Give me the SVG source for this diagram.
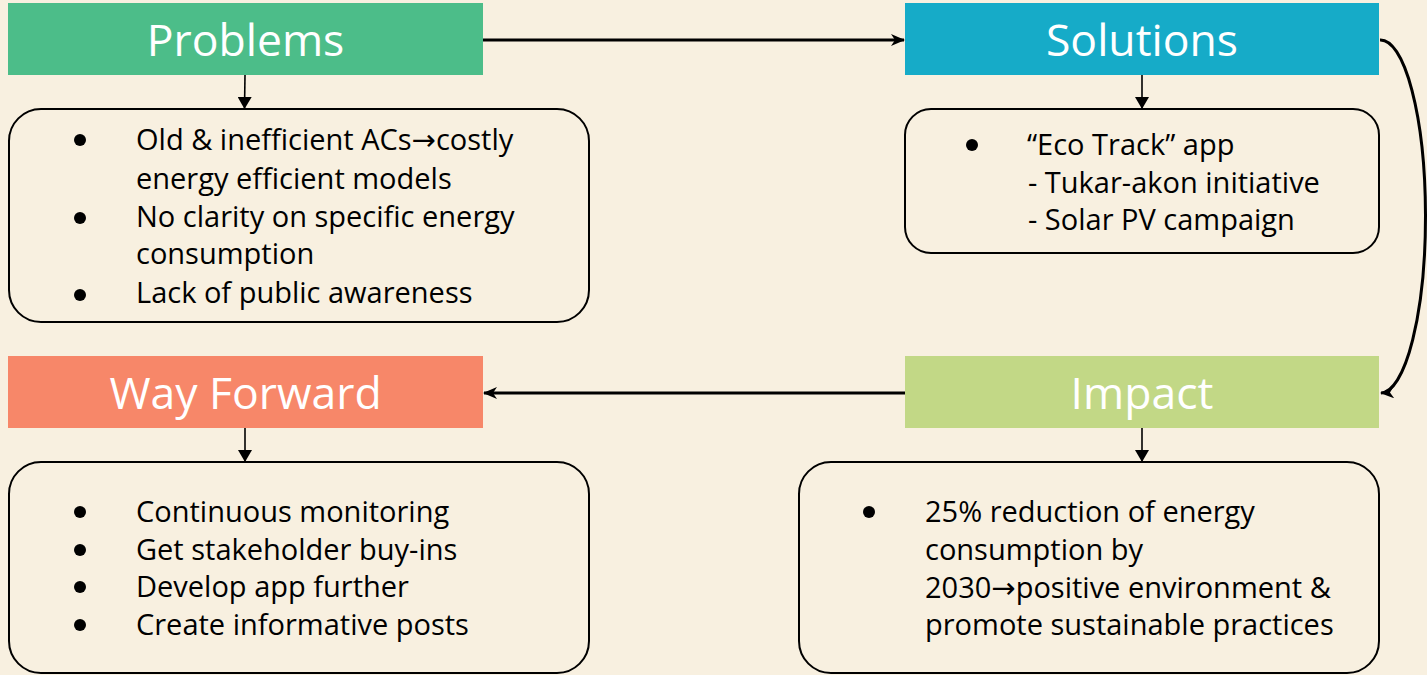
<svg xmlns="http://www.w3.org/2000/svg" width="1427" height="675" viewBox="0 0 1427 675">
<style>
.bg{fill:#F8F0E0}
.title{font-family:"Open Sans","Noto Sans",sans-serif;font-size:44.5px;fill:#FFFFFF;text-anchor:middle}
.body{font-family:"Open Sans","Noto Sans",sans-serif;font-size:29px;fill:#000000}
.arr{font-family:"DejaVu Sans",sans-serif}
.card{fill:#F8F0E0;stroke:#000000;stroke-width:2}
.thick{fill:none;stroke:#000000;stroke-width:3}
.thin{fill:none;stroke:#000000;stroke-width:1.6}
</style>
<defs>
<marker id="bigArrow" viewBox="0 0 14 12" refX="13" refY="6" markerWidth="14" markerHeight="12" markerUnits="userSpaceOnUse" orient="auto">
<path d="M0,0 L14,6 L0,12 L4,6 Z" fill="#000"/>
</marker>
<marker id="smallArrow" viewBox="0 0 12 14" refX="12" refY="7" markerWidth="14" markerHeight="14" markerUnits="userSpaceOnUse" orient="auto">
<path d="M0,0 L12,7 L0,14 Z" fill="#000"/>
</marker>
</defs>
<rect class="bg" x="0" y="0" width="1427" height="675"/>

<g id="connectors">
<path class="thick" d="M483,40 L904,40" marker-end="url(#bigArrow)"/>
<path class="thick" d="M905,393 L484,393" marker-end="url(#bigArrow)"/>
<path class="thick" d="M1380,40 A45,176.5 0 0 1 1381,393" marker-end="url(#bigArrow)"/>
<path class="thin" d="M245,75 L244.5,109" marker-end="url(#smallArrow)"/>
<path class="thin" d="M1142,75 L1142,109" marker-end="url(#smallArrow)"/>
<path class="thin" d="M245,428 L245,462" marker-end="url(#smallArrow)"/>
<path class="thin" d="M1142,428 L1142,462" marker-end="url(#smallArrow)"/>
</g>

<g id="problems">
<rect x="8" y="3" width="475" height="72" fill="#4CBD89"/>
<text class="title" x="245.5" y="56">Problems</text>
</g>
<g id="problems-details">
<rect class="card" x="9" y="109" width="580" height="213" rx="32"/>
<g class="body">
<circle cx="80" cy="140" r="6"/>
<circle cx="80" cy="218" r="6"/>
<circle cx="80" cy="295" r="6"/>
<text x="136" y="150">Old &amp; inefficient ACs<tspan class="arr">→</tspan>costly</text>
<text x="136" y="189">energy efficient models</text>
<text x="136" y="227">No clarity on specific energy</text>
<text x="136" y="264">consumption</text>
<text x="136" y="303">Lack of public awareness</text>
</g>
</g>

<g id="solutions">
<rect x="905" y="3" width="474" height="72" fill="#16ABC8"/>
<text class="title" x="1142" y="56">Solutions</text>
</g>
<g id="solutions-details">
<rect class="card" x="905" y="109" width="474" height="144" rx="26"/>
<g class="body">
<circle cx="972" cy="145" r="6"/>
<text x="1027" y="155">“Eco Track” app</text>
<text x="1028" y="193">- Tukar-akon initiative</text>
<text x="1028" y="230">- Solar PV campaign</text>
</g>
</g>

<g id="way-forward">
<rect x="8" y="356" width="475" height="72" fill="#F78769"/>
<text class="title" x="245.5" y="409">Way Forward</text>
</g>
<g id="way-forward-details">
<rect class="card" x="9" y="462" width="580" height="211" rx="32"/>
<g class="body">
<circle cx="80" cy="512" r="6"/>
<circle cx="80" cy="550" r="6"/>
<circle cx="80" cy="587" r="6"/>
<circle cx="80" cy="625" r="6"/>
<text x="136" y="522">Continuous monitoring</text>
<text x="136" y="560">Get stakeholder buy-ins</text>
<text x="136" y="597">Develop app further</text>
<text x="136" y="635">Create informative posts</text>
</g>
</g>

<g id="impact">
<rect x="905" y="356" width="474" height="72" fill="#C2D886"/>
<text class="title" x="1142" y="409">Impact</text>
</g>
<g id="impact-details">
<rect class="card" x="799" y="462" width="580" height="211" rx="32"/>
<g class="body">
<circle cx="869" cy="512" r="6"/>
<text x="925" y="522">25% reduction of energy</text>
<text x="925" y="560">consumption by</text>
<text x="925" y="598">2030<tspan class="arr">→</tspan>positive environment &amp;</text>
<text x="925" y="635">promote sustainable practices</text>
</g>
</g>
</svg>
